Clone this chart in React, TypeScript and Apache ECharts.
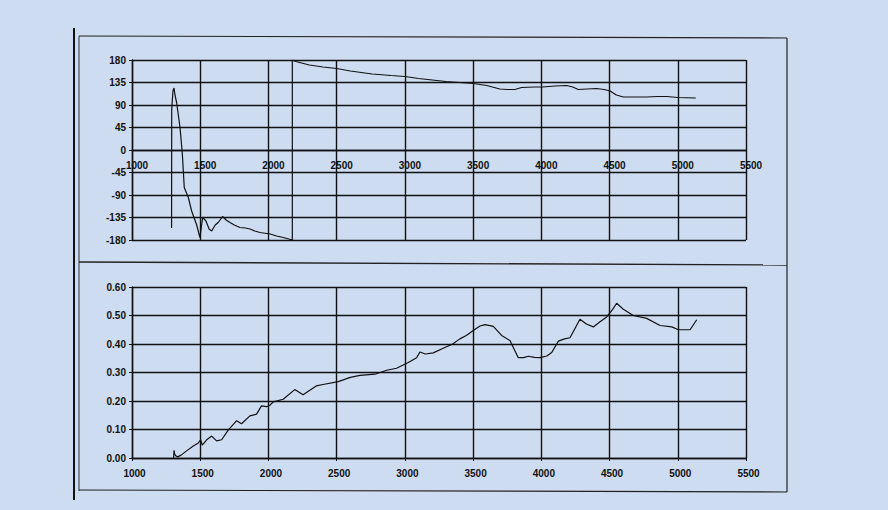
import React, { useEffect, useRef } from "react";
import * as echarts from "echarts";

const freqTicks = [1000, 1500, 2000, 2500, 3000, 3500, 4000, 4500, 5000, 5500];

const phaseData: [number, number][] = [
  [1290, -156], [1291, 80], [1300, 118], [1308, 124], [1315, 110], [1327, 95], [1352, 45],
  [1369, -8], [1383, -75], [1413, -95], [1437, -122], [1473, -149], [1498, -175], [1510, -150],
  [1518, -135], [1542, -142], [1565, -158], [1584, -162], [1610, -150], [1632, -145], [1664, -133],
  [1690, -140], [1718, -145], [1750, -150], [1791, -155], [1830, -156], [1865, -158], [1900, -162],
  [1938, -165], [2012, -168], [2060, -172], [2109, -175], [2175, -180], [2175, 180], [2200, 177],
  [2300, 170], [2400, 166], [2500, 163], [2600, 158], [2760, 152], [2900, 149], [3000, 147],
  [3100, 143], [3200, 140], [3300, 137], [3400, 135], [3500, 133], [3600, 129], [3696, 122],
  [3750, 121], [3806, 121], [3855, 125], [3950, 126], [4010, 126], [4100, 128], [4186, 129],
  [4230, 126], [4271, 121], [4333, 122], [4406, 123], [4460, 121], [4504, 118], [4550, 110],
  [4601, 106], [4700, 106], [4773, 106], [4850, 107], [4920, 107], [5000, 105], [5132, 104],
];

const magData: [number, number][] = [
  [1305, 0.0], [1308, 0.027], [1312, 0.015], [1320, 0.008], [1335, 0.004], [1360, 0.01],
  [1400, 0.025], [1449, 0.042], [1486, 0.053], [1503, 0.064], [1515, 0.045], [1550, 0.065],
  [1584, 0.077], [1620, 0.06], [1657, 0.064], [1705, 0.098], [1767, 0.131], [1803, 0.12],
  [1864, 0.148], [1913, 0.154], [1949, 0.183], [1986, 0.18], [2010, 0.185], [2036, 0.197],
  [2108, 0.206], [2193, 0.24], [2254, 0.222], [2350, 0.253], [2400, 0.258], [2512, 0.268],
  [2600, 0.283], [2671, 0.29], [2781, 0.294], [2866, 0.308], [2939, 0.315], [3025, 0.335],
  [3086, 0.352], [3110, 0.372], [3150, 0.365], [3208, 0.369], [3281, 0.385], [3350, 0.4],
  [3403, 0.418], [3450, 0.43], [3501, 0.447], [3550, 0.463], [3587, 0.468], [3648, 0.462],
  [3709, 0.43], [3770, 0.412], [3831, 0.352], [3870, 0.352], [3904, 0.357], [3950, 0.353],
  [3990, 0.352], [4040, 0.358], [4076, 0.37], [4125, 0.41], [4170, 0.418], [4210, 0.422],
  [4283, 0.487], [4330, 0.47], [4381, 0.46], [4430, 0.478], [4479, 0.495], [4520, 0.52],
  [4552, 0.543], [4601, 0.522], [4674, 0.5], [4772, 0.49], [4870, 0.465], [4956, 0.46],
  [5005, 0.45], [5090, 0.45], [5139, 0.485],
];

const phaseTicks = [-180, -135, -90, -45, 0, 45, 90, 135, 180];
const magTicks = [0, 0.1, 0.2, 0.3, 0.4, 0.5, 0.6];

const BG = "#cddcf0";
const INK = "#111";
const FONT = "'Liberation Sans', Arial, sans-serif";

export default function App() {
  const ref = useRef<HTMLDivElement>(null);
  useEffect(() => {
    document.body.style.margin = "0";
    const chart = echarts.init(ref.current!, null, { renderer: "svg" });
    const labelStyle = { color: INK, fontSize: 10, fontWeight: "bold" as const, fontFamily: FONT };
    const split = { show: true, lineStyle: { color: INK, width: 1.4 } };
    const xBase = {
      type: "value" as const,
      min: freqTicks[0],
      max: freqTicks[freqTicks.length - 1],
      interval: freqTicks[1] - freqTicks[0],
      splitLine: split,
      axisTick: { show: true, length: 3, lineStyle: { color: INK } },
      axisLine: { show: true, onZero: false, lineStyle: { color: INK, width: 1.4 } },
    };
    chart.setOption({
      animation: false,
      backgroundColor: BG,
      grid: [
        { left: 132, top: 60, width: 614, height: 180 },
        { left: 132, top: 287, width: 614, height: 171 },
      ],
      xAxis: [
        {
          ...xBase,
          gridIndex: 0,
          position: "bottom",
          offset: -90,
          axisLabel: { ...labelStyle, margin: 10, padding: [0, 0, 0, 10], formatter: (v: number) => String(v) },
        },
        {
          ...xBase,
          gridIndex: 1,
          axisLabel: { ...labelStyle, margin: 10, padding: [0, 0, 0, 5], formatter: (v: number) => String(v) },
        },
      ],
      yAxis: [
        {
          type: "value",
          gridIndex: 0,
          min: phaseTicks[0],
          max: phaseTicks[phaseTicks.length - 1],
          interval: 45,
          splitLine: split,
          axisLine: { show: true, onZero: false, lineStyle: { color: INK, width: 1.4 } },
          axisTick: { show: true, length: 3, lineStyle: { color: INK } },
          axisLabel: { ...labelStyle, margin: 6 },
        },
        {
          type: "value",
          gridIndex: 1,
          min: magTicks[0],
          max: magTicks[magTicks.length - 1],
          interval: 0.1,
          splitLine: split,
          axisLine: { show: true, onZero: false, lineStyle: { color: INK, width: 1.4 } },
          axisTick: { show: true, length: 3, lineStyle: { color: INK } },
          axisLabel: { ...labelStyle, margin: 6, formatter: (v: number) => v.toFixed(2) },
        },
      ],
      series: [
        {
          type: "line",
          xAxisIndex: 0,
          yAxisIndex: 0,
          data: phaseData,
          showSymbol: false,
          lineStyle: { color: INK, width: 1.2 },
        },
        {
          type: "line",
          xAxisIndex: 1,
          yAxisIndex: 1,
          data: magData,
          showSymbol: false,
          lineStyle: { color: INK, width: 1.2 },
        },
      ],
      graphic: [
        { type: "line", shape: { x1: 74, y1: 28, x2: 74, y2: 500 }, style: { stroke: INK, lineWidth: 2 } },
        { type: "line", shape: { x1: 79, y1: 36, x2: 787, y2: 38 }, style: { stroke: "#222", lineWidth: 1.2 } },
        { type: "line", shape: { x1: 79, y1: 36, x2: 79, y2: 491 }, style: { stroke: "#333", lineWidth: 1 } },
        { type: "line", shape: { x1: 787, y1: 38, x2: 787, y2: 492 }, style: { stroke: "#222", lineWidth: 1.2 } },
        { type: "line", shape: { x1: 79, y1: 262, x2: 787, y2: 265 }, style: { stroke: "#222", lineWidth: 1.4 } },
        { type: "line", shape: { x1: 79, y1: 490, x2: 787, y2: 492 }, style: { stroke: "#222", lineWidth: 1.2 } },
      ],
    });
    return () => chart.dispose();
  }, []);
  return (
    <div
      ref={ref}
      style={{ position: "fixed", left: 0, top: 0, width: 888, height: 510 }}
    />
  );
}
